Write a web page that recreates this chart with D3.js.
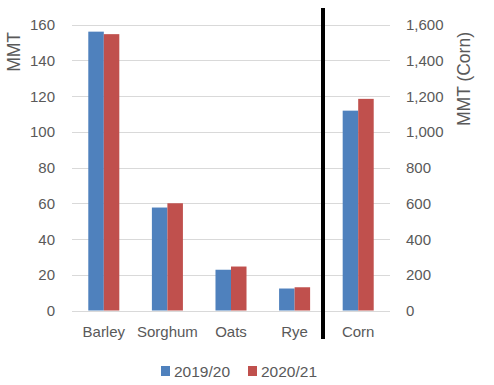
<!DOCTYPE html>
<html><head><meta charset="utf-8">
<script src="https://cdn.jsdelivr.net/npm/d3@7"></script>
<style>body{margin:0;background:#fff}svg{display:block}text{font-family:"Liberation Sans",Arial,sans-serif;fill:#595959}</style>
</head><body><svg id="c" width="494" height="385"></svg>
<script>
const categories = ["Barley","Sorghum","Oats","Rye","Corn"];
const series = ["2019/20","2020/21"];
const values2019 = [156, 57.6, 22.8, 12.3, 1118];
const values2020 = [154.6, 60.0, 24.6, 13.0, 1184];
const leftTicks = [0,20,40,60,80,100,120,140,160];
const rightTicks = [0,200,400,600,800,1000,1200,1400,1600];
const colors = ["#4f81bd","#c0504d"];
const rightCategory = "Corn";

const svg = d3.select("#c");
const L = 72, R = 390, T = 24.5, B = 310.5;
const x = d3.scaleBand().domain(categories).range([L, R]).paddingInner(0).paddingOuter(0);
const x1 = d3.scaleBand().domain(series).range([0, x.bandwidth()]).paddingInner(0).paddingOuter(1.05);
const yL = d3.scaleLinear().domain([0,160]).range([B, T]);
const yR = d3.scaleLinear().domain([0,1600]).range([B, T]);

// gridlines
svg.append("g").selectAll("line").data(leftTicks).join("line")
  .attr("x1", L).attr("x2", R).attr("y1", d=>Math.round(yL(d))+0.5).attr("y2", d=>Math.round(yL(d))+0.5)
  .attr("stroke", "#d9d9d9").attr("stroke-width", 1);

// bars
const data = categories.map((c,i)=>({cat:c, vals:[values2019[i], values2020[i]]}));
const g = svg.append("g");
data.forEach(d=>{
  const ys = d.cat === rightCategory ? yR : yL;
  g.selectAll(null).data(d.vals.map((v,j)=>({s:series[j], v, j}))).join("rect")
    .attr("x", e=>x(d.cat)+x1(e.s)).attr("width", x1.bandwidth())
    .attr("y", e=>ys(e.v)).attr("height", e=>B-ys(e.v))
    .attr("fill", e=>colors[e.j]);
});

// separator
svg.append("line").attr("x1",323).attr("x2",323).attr("y1",8).attr("y2",339)
  .attr("stroke","#000").attr("stroke-width",4);

// left axis labels
svg.append("g").selectAll("text").data(leftTicks).join("text")
  .attr("x", 55).attr("y", d=>yL(d)+5.5).attr("text-anchor","end").attr("font-size",15).text(d=>d);
// right axis labels
const fmt = d3.format(",");
svg.append("g").selectAll("text").data(rightTicks).join("text")
  .attr("x", 406).attr("y", d=>yR(d)+5.5).attr("text-anchor","start").attr("font-size",15).text(d=>fmt(d));

// category labels
svg.append("g").selectAll("text").data(categories).join("text")
  .attr("x", d=>x(d)+x.bandwidth()/2).attr("y", 337).attr("text-anchor","middle").attr("font-size",15).text(d=>d);

// axis titles
svg.append("text").attr("transform","translate(19.5,32) rotate(-90)").attr("text-anchor","end")
  .attr("font-size",17.5).text("MMT");
svg.append("text").attr("transform","translate(469.5,32) rotate(-90)").attr("text-anchor","end")
  .attr("font-size",17.5).text("MMT (Corn)");

// legend
const leg = svg.append("g");
const legX = [161, 248];
series.forEach((s,i)=>{
  leg.append("rect").attr("x", legX[i]).attr("y", 366).attr("width",9).attr("height",10).attr("fill",colors[i]);
  leg.append("text").attr("x", legX[i]+13).attr("y", 376.5).attr("font-size",15.5).text(s);
});
</script></body></html>
